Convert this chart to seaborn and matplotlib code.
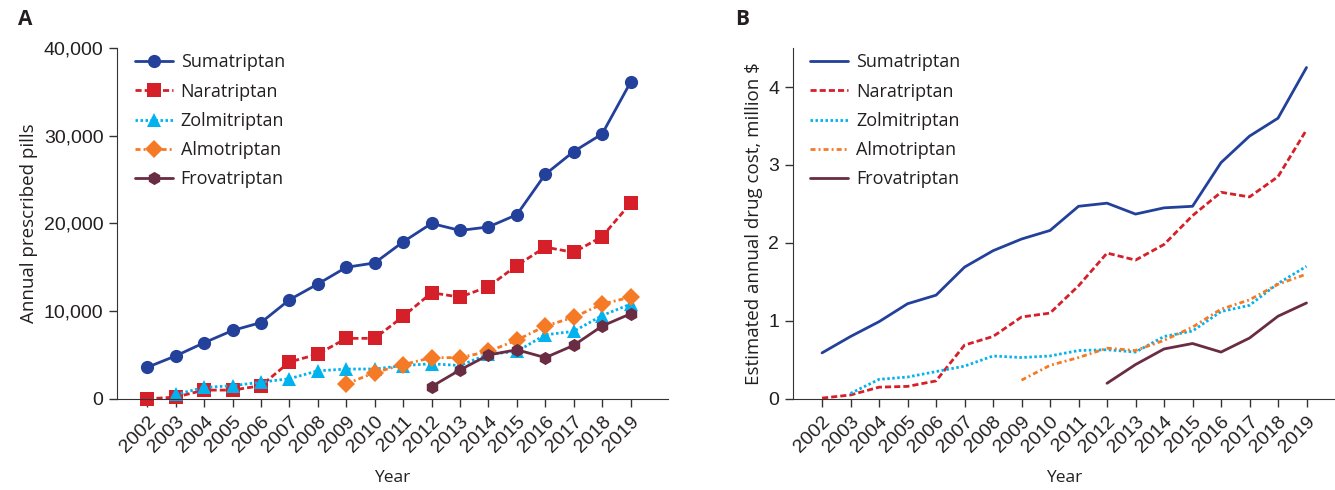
import pandas as pd
import seaborn as sns
import matplotlib.pyplot as plt

# ----------------------------------------------------------
# Data
# ----------------------------------------------------------
years = list(range(2002, 2020))
drugs = ["Sumatriptan", "Naratriptan", "Zolmitriptan", "Almotriptan", "Frovatriptan"]

# Panel A: annual prescribed pills
pills_suma = [3600, 4900, 6400, 7800, 8700, 11300, 13100, 15000, 15500, 17900,
              20000, 19200, 19600, 21000, 25600, 28200, 30200, 36100]
pills_nara = [0, 200, 1000, 1000, 1500, 4200, 5100, 6900, 6900, 9400,
              12100, 11600, 12800, 15200, 17300, 16700, 18500, 22300]
pills_zolm = [None, 500, 1300, 1500, 1900, 2300, 3200, 3400, 3400, 3800,
              4000, 3800, 5100, 5400, 7300, 7700, 9500, 10800]
pills_almo = [None] * 7 + [1700, 3000, 3900, 4700, 4700, 5400, 6700, 8300, 9300, 10800, 11600]
pills_frov = [None] * 10 + [1400, 3300, 5000, 5600, 4700, 6100, 8300, 9700]

# Panel B: estimated annual drug cost, million $
cost_suma = [0.59, 0.80, 0.99, 1.22, 1.33, 1.69, 1.90, 2.05, 2.16, 2.47,
             2.51, 2.37, 2.45, 2.47, 3.03, 3.37, 3.60, 4.25]
cost_nara = [0.01, 0.05, 0.15, 0.16, 0.23, 0.69, 0.80, 1.05, 1.10, 1.45,
             1.87, 1.78, 1.98, 2.35, 2.65, 2.59, 2.85, 3.45]
cost_zolm = [None, 0.07, 0.25, 0.28, 0.35, 0.42, 0.55, 0.53, 0.55, 0.62,
             0.63, 0.60, 0.80, 0.87, 1.12, 1.20, 1.48, 1.70]
cost_almo = [None] * 7 + [0.24, 0.43, 0.53, 0.65, 0.62, 0.75, 0.92, 1.15, 1.27, 1.47, 1.60]
cost_frov = [None] * 10 + [0.20, 0.44, 0.64, 0.71, 0.60, 0.78, 1.06, 1.23]


def to_long(series):
    rows = []
    for name, vals in zip(drugs, series):
        for y, v in zip(years, vals):
            if v is not None:
                rows.append({"Year": y, "Drug": name, "Value": v})
    return pd.DataFrame(rows)


pills = to_long([pills_suma, pills_nara, pills_zolm, pills_almo, pills_frov])
cost = to_long([cost_suma, cost_nara, cost_zolm, cost_almo, cost_frov])

colors = {"Sumatriptan": "#23409a", "Naratriptan": "#d5202a", "Zolmitriptan": "#00b2ee",
          "Almotriptan": "#f47a26", "Frovatriptan": "#6a2c43"}
dashes = {"Sumatriptan": "", "Naratriptan": (2.2, 1.1), "Zolmitriptan": (0.9, 0.9),
          "Almotriptan": (1.8, 1.1, 0.7, 1.1), "Frovatriptan": ""}
markers = {"Sumatriptan": "o", "Naratriptan": "s", "Zolmitriptan": "^",
           "Almotriptan": "D", "Frovatriptan": "h"}

sns.set_style("ticks")
plt.rcParams["font.family"] = ["Open Sans", "DejaVu Sans"]
tick_font = ["Liberation Sans Narrow", "Liberation Sans", "DejaVu Sans"]
text_color = "#231f20"

fig = plt.figure(figsize=(13.35, 4.9), dpi=100)
axA = fig.add_axes([0.088, 0.186, 0.412, 0.716])
axB = fig.add_axes([0.594, 0.186, 0.406, 0.716])

sns.lineplot(data=pills, x="Year", y="Value", hue="Drug", style="Drug",
             palette=colors, dashes=dashes, markers=markers, markersize=9.5,
             markeredgewidth=0, linewidth=2.0, ax=axA, clip_on=False)
sns.lineplot(data=cost, x="Year", y="Value", hue="Drug", style="Drug",
             palette=colors, dashes=dashes, linewidth=2.0, ax=axB)

axA.set_ylim(0, 40000)
axA.set_yticks([0, 10000, 20000, 30000, 40000])
axA.set_yticklabels(["0", "10,000", "20,000", "30,000", "40,000"])
axA.set_xlim(2000.95, 2020.3)
axA.set_ylabel("Annual prescribed pills", fontsize=13.5, color=text_color)

axB.set_ylim(0, 4.5)
axB.set_yticks([0, 1, 2, 3, 4])
axB.set_xlim(2000.98, 2020.0)
axB.set_ylabel("Estimated annual drug cost, million $", fontsize=13.5, color=text_color)

for ax in (axA, axB):
    ax.set_xticks(years)
    ax.set_xticklabels([str(y) for y in years], rotation=45, ha="right",
                       rotation_mode="anchor", family=tick_font, fontsize=14,
                       color=text_color)
    for lab in ax.get_yticklabels():
        lab.set_family(tick_font)
        lab.set_fontsize(14)
        lab.set_color(text_color)
    ax.set_xlabel("Year", fontsize=12.5, color=text_color, labelpad=10)
    ax.tick_params(direction="out", length=6, width=1, color="#333333", pad=4)
    sns.despine(ax=ax)
    for sp in ("left", "bottom"):
        ax.spines[sp].set_color("#333333")
    leg = ax.legend(loc="upper left", bbox_to_anchor=(0.018, 1.005), frameon=False,
                    fontsize=13, handlelength=2.1, labelspacing=0.62,
                    handletextpad=0.45, borderaxespad=0)
    for t in leg.get_texts():
        t.set_color(text_color)

fig.text(0.0135, 0.96, "A", fontsize=15, fontweight="bold", color=text_color, va="center")
fig.text(0.551, 0.96, "B", fontsize=15, fontweight="bold", color=text_color, va="center")

fig.savefig("out.png", dpi=100)
